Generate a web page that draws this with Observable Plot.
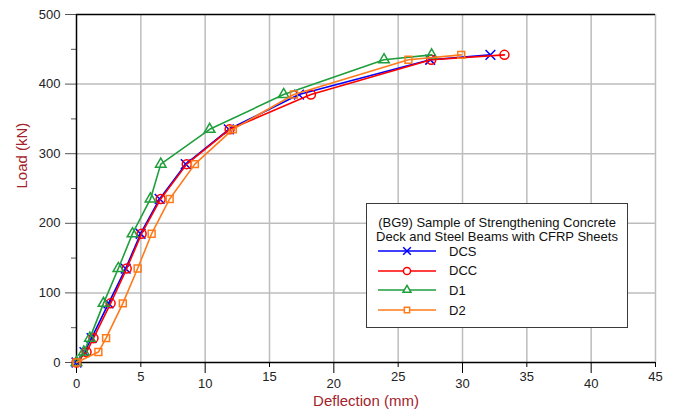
<!DOCTYPE html>
<html>
<head>
<meta charset="utf-8">
<script src="https://cdn.jsdelivr.net/npm/d3@7"></script>
<script src="https://cdn.jsdelivr.net/npm/@observablehq/plot@0.6"></script>
<style>
  html, body { margin: 0; padding: 0; background: #fff; }
  body { font-family: "Liberation Sans", Arial, sans-serif; }
  #chart { position: relative; width: 673px; height: 410px; }
  #chart svg { display: block; }
  .legend {
    position: absolute; left: 366px; top: 203px; width: 260px; height: 123px;
    border: 1px solid #3a3a3a; background: #fff; box-sizing: content-box;
    font-size: 13px; color: #111;
  }
  .legend .title { text-align: center; line-height: 14px; margin-top: 12px; }
  .legend .row { position: absolute; left: 10px; height: 20px; display: flex; align-items: center; }
  .legend .row span { margin-left: 12px; font-size: 13px; }
</style>
</head>
<body>
<div id="chart"></div>
<script>
// Load steps (kN) shared by all four test series
const loads = [0, 15, 35, 85, 135, 185, 235, 285, 335, 385, 435, 442];

// Mid-span deflection (mm) at each load step
const defDCS = [0, 0.62, 1.17, 2.49, 3.82, 4.98, 6.46, 8.49, 11.84, 17.29, 27.49, 32.17];
const defDCC = [0, 0.78, 1.32, 2.65, 3.90, 5.06, 6.54, 8.57, 11.90, 18.22, 27.57, 33.26];
const defD1  = [0, 0.57, 1.04, 2.10, 3.25, 4.35, 5.75, 6.55, 10.35, 16.10, 23.90, 27.60];
const defD2  = [0, 1.70, 2.30, 3.60, 4.75, 5.84, 7.24, 9.20, 12.15, 16.90, 25.80, 29.90];

const seriesNames   = ["DCS", "DCC", "D1", "D2"];
const seriesDefl    = [defDCS, defDCC, defD1, defD2];
const seriesColors  = ["#0000ff", "#ff0000", "#1f9e3c", "#ff7a1a"];
const seriesSymbols = ["times", "circle", "triangle", "square"];
const seriesRadius  = [4.5, 4.5, 3.9, 3.9];

const legendTitle = ["(BG9) Sample of Strengthening Concrete", "Deck and Steel Beams with CFRP Sheets"];

// x tick labels alternate between a lower row (multiples of 10) and an upper row
const xEvenTicks = [0, 10, 20, 30, 40];
const xOddTicks  = [5, 15, 25, 35, 45];
const yMajorTicks = [0, 100, 200, 300, 400, 500];
const yMinorTicks = [50, 150, 250, 350, 450];

const rows = seriesNames.flatMap((name, i) =>
  loads.map((load, j) => ({series: name, defl: seriesDefl[i][j], load}))
);

const titleColor = "#a3232b";
const gridColor = "#bdbdbd";
const noLabel = () => "";

const seriesMarks = seriesNames.flatMap((name, i) => {
  const data = rows.filter(d => d.series === name);
  return [
    Plot.line(data, {x: "defl", y: "load", stroke: seriesColors[i], strokeWidth: 1.6}),
    Plot.dot(data, {x: "defl", y: "load", stroke: seriesColors[i], symbol: seriesSymbols[i],
                    r: seriesRadius[i], strokeWidth: 1.5, fill: "none"})
  ];
});

const plot = Plot.plot({
  width: 673,
  height: 410,
  marginLeft: 76,
  marginRight: 18,
  marginTop: 14,
  marginBottom: 48,
  style: {fontFamily: "'Liberation Sans', Arial, sans-serif", fontSize: "13px", color: "#222", background: "#fff"},
  x: {domain: [0, 45]},
  y: {domain: [0, 500]},
  marks: [
    Plot.gridX(d3.range(5, 46, 5), {stroke: gridColor, strokeOpacity: 1, strokeWidth: 1.5}),
    Plot.gridY([100, 200, 300, 400], {stroke: gridColor, strokeOpacity: 1, strokeWidth: 1.5}),
    Plot.ruleY([500], {stroke: "#000", strokeWidth: 1.5}),
    Plot.axisY(yMajorTicks, {tickSize: 11, tickPadding: 5, stroke: "#555", label: null}),
    Plot.axisY(yMinorTicks, {tickSize: 5, tickFormat: noLabel, stroke: "#555", label: null}),
    Plot.axisX(xEvenTicks, {tickSize: 11, tickFormat: noLabel, stroke: "#000", label: null}),
    Plot.axisX(xOddTicks, {tickSize: 5, tickFormat: noLabel, stroke: "#000", label: null}),
    Plot.text(xEvenTicks, {x: d => d, frameAnchor: "bottom", dy: 25, fill: "#222", text: d => String(d)}),
    Plot.text(xOddTicks, {x: d => d, frameAnchor: "bottom", dy: 18, fill: "#222", text: d => String(d)}),
    Plot.ruleX([0], {stroke: "#000", strokeWidth: 1.5}),
    Plot.ruleY([0], {stroke: "#000", strokeWidth: 1.5}),
    Plot.text(["Load (kN)"], {frameAnchor: "left", rotate: -90, dx: -54, fill: titleColor, fontSize: 15}),
    Plot.text(["Deflection (mm)"], {frameAnchor: "bottom", dy: 43, fill: titleColor, fontSize: 15}),
    ...seriesMarks
  ]
});

const chart = document.getElementById("chart");
chart.appendChild(plot);

// Legend box placed inside the plotting area
const legend = document.createElement("div");
legend.className = "legend";
legend.innerHTML = `<div class="title">${legendTitle.join("<br>")}</div>`;
seriesNames.forEach((name, i) => {
  const row = document.createElement("div");
  row.className = "row";
  row.style.top = (37 + i * 19.7) + "px";
  const svg = d3.create("svg").attr("width", 60).attr("height", 12);
  svg.append("line").attr("x1", 1).attr("x2", 59).attr("y1", 6).attr("y2", 6)
    .attr("stroke", seriesColors[i]).attr("stroke-width", 1.6);
  const symbolType = {times: d3.symbolTimes, circle: d3.symbolCircle, triangle: d3.symbolTriangle, square: d3.symbolSquare}[seriesSymbols[i]];
  svg.append("path").attr("transform", "translate(30,6)")
    .attr("d", d3.symbol(symbolType, i < 2 ? 40 : 28)())
    .attr("fill", "#fff").attr("stroke", seriesColors[i]).attr("stroke-width", 1.5);
  row.appendChild(svg.node());
  const label = document.createElement("span");
  label.textContent = name;
  row.appendChild(label);
  legend.appendChild(row);
});
chart.appendChild(legend);
</script>
</body>
</html>
